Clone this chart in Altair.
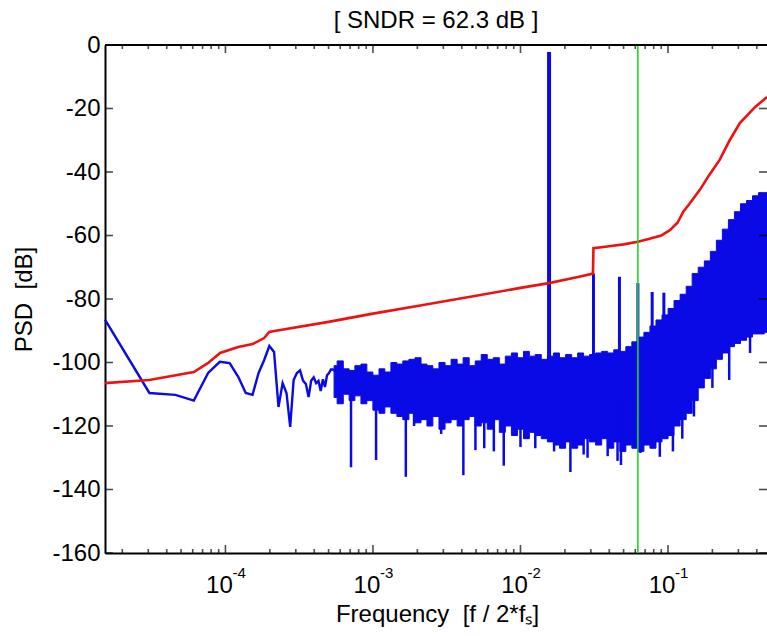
import altair as alt
import pandas as pd

FONT = "Liberation Sans"
BLUE = "#0a0ae6"
RED = "#ee1111"
GREEN = "#1ed81e"

X_MIN, X_MAX = 1.526e-5, 0.469
Y_MIN, Y_MAX = -160, 0

# ---- low-frequency PSD bins (blue line) ----
low_f = [1.526e-5, 3.052e-5, 4.578e-5, 6.104e-5, 7.630e-5, 9.155e-5, 1.068e-4, 1.221e-4,
         1.373e-4, 1.526e-4, 1.678e-4, 1.831e-4, 1.984e-4, 2.136e-4, 2.289e-4, 2.441e-4,
         2.594e-4, 2.747e-4, 2.899e-4, 3.052e-4, 3.204e-4, 3.357e-4, 3.510e-4, 3.662e-4,
         3.815e-4, 3.967e-4, 4.120e-4, 4.272e-4, 4.425e-4, 4.578e-4, 4.730e-4, 4.883e-4,
         5.035e-4, 5.188e-4, 5.341e-4, 5.493e-4, 5.646e-4]
low_db = [-86.5, -109.6, -110.2, -112.0, -103.3, -99.8, -100.2, -104.5,
          -109.6, -110.2, -103.3, -99.2, -94.8, -96.7, -114.0, -106.5,
          -109.6, -120.3, -105.5, -103.3, -102.5, -105.7, -106.8, -110.9,
          -105.7, -104.7, -106.5, -105.8, -109.0, -105.3, -107.7, -104.0,
          -103.3, -102.2, -102.2, -102.6, -102.2]

# ---- dense noise floor: upper / lower envelope ----
band_f = [5.45e-4, 6.0e-4, 6.6e-4, 7.2e-4, 7.9e-4, 8.7e-4, 9.5e-4, 1.05e-3, 1.15e-3, 1.26e-3,
          1.39e-3, 1.52e-3, 1.67e-3, 1.84e-3, 2.02e-3, 2.22e-3, 2.43e-3, 2.67e-3, 2.94e-3, 3.23e-3,
          3.55e-3, 3.9e-3, 4.28e-3, 4.71e-3, 5.17e-3, 5.68e-3, 6.24e-3, 6.86e-3, 7.53e-3, 8.28e-3,
          9.1e-3, 1.0e-2, 1.1e-2, 1.2e-2, 1.32e-2, 1.45e-2, 1.6e-2, 1.75e-2, 1.93e-2, 2.12e-2,
          2.33e-2, 2.56e-2, 2.8e-2, 3.08e-2, 3.39e-2, 3.72e-2, 4.09e-2, 4.5e-2, 4.94e-2, 5.43e-2,
          5.96e-2, 6.55e-2, 7.2e-2, 7.91e-2, 8.69e-2, 9.55e-2, 0.105, 0.115, 0.127, 0.139,
          0.153, 0.168, 0.185, 0.203, 0.223, 0.245, 0.269, 0.296, 0.325, 0.357,
          0.392, 0.431, 0.469]
band_hi = [-101.0, -99.5, -102.0, -102.5, -101.0, -100.5, -103.0, -104.0, -102.0, -103.0,
           -100.0, -100.5, -99.5, -99.0, -98.5, -100.5, -101.0, -102.0, -100.0, -101.0,
           -99.0, -100.5, -98.5, -101.0, -99.5, -97.5, -99.0, -98.5, -100.5, -98.0,
           -97.0, -98.5, -96.5, -98.0, -97.5, -99.0, -98.0, -97.0, -98.5, -97.5,
           -98.5, -97.0, -98.0, -97.5, -97.0, -96.5, -97.0, -96.0, -96.5, -95.0,
           -93.5, -92.0, -90.5, -88.5, -86.6, -85.0, -83.0, -80.5, -78.5, -76.0,
           -72.0, -70.0, -68.0, -65.0, -61.5, -58.0, -55.0, -52.5, -50.0, -49.0,
           -47.5, -46.5, -46.5]
band_lo = [-111.0, -113.0, -110.0, -112.0, -110.5, -113.0, -112.0, -115.0, -116.0, -114.0,
           -116.0, -117.0, -118.0, -116.0, -119.0, -118.0, -120.0, -117.0, -121.0, -119.0,
           -118.0, -120.0, -118.0, -117.0, -120.0, -119.0, -121.0, -118.0, -122.0, -120.0,
           -123.0, -121.0, -124.0, -122.0, -123.0, -124.0, -125.0, -126.0, -127.0, -125.0,
           -127.0, -126.0, -124.0, -125.0, -126.0, -124.0, -127.0, -125.0, -128.0, -126.0,
           -127.0, -128.0, -126.0, -127.0, -125.0, -124.0, -123.0, -120.0, -118.0, -116.0,
           -112.0, -108.0, -105.0, -102.0, -99.0, -97.0, -95.0, -94.0, -93.0, -92.0,
           -91.0, -91.0, -90.5]

# ---- deep notches below the noise floor ----
dip_f = [7.1e-4, 1.05e-3, 1.67e-3, 1.9e-3, 2.9e-3, 4.1e-3, 4.95e-3, 5.68e-3, 6.6e-3, 7.7e-3,
         1.0e-2, 1.26e-2, 1.69e-2, 2.18e-2, 2.68e-2, 2.85e-2, 3.9e-2, 4.55e-2, 4.8e-2, 6.5e-2,
         8.8e-2, 0.108, 0.125, 0.15, 0.2, 0.26, 0.36]
dip_db = [-133.0, -130.7, -136.0, -120.0, -122.5, -135.5, -127.6, -127.0, -128.0, -132.5,
          -126.6, -127.0, -128.0, -134.5, -129.0, -130.0, -129.5, -131.0, -132.3, -128.5,
          -129.7, -128.0, -124.0, -117.0, -108.0, -105.5, -97.0]
dip_top = [-108.0, -110.0, -110.0, -110.0, -110.0, -110.0, -110.0, -110.0, -110.0, -110.0,
           -110.0, -110.0, -110.0, -110.0, -110.0, -110.0, -110.0, -110.0, -110.0, -110.0,
           -110.0, -110.0, -105.0, -100.0, -90.0, -85.0, -80.0]

# ---- signal tone and harmonics ----
main_f = [0.015625]
main_db = [-2.2]
main_base = [-100.0]
tone_f = [0.03125, 0.046875, 0.0625, 0.078125, 0.09375]
tone_db = [-72.0, -73.0, -75.0, -77.8, -78.0]
tone_base = [-100.0, -100.0, -100.0, -100.0, -100.0]

# ---- red curve ----
red_f = [1.526e-5, 3.05e-5, 6.1e-5, 7.6e-5, 9.2e-5, 1.22e-4, 1.53e-4, 1.83e-4, 1.98e-4, 2.2e-4,
         5.0e-4, 1.0e-3, 2.0e-3, 5.0e-3, 1.0e-2, 1.56e-2, 2.5e-2, 3.1e-2, 3.125e-2, 4.0e-2,
         5.0e-2, 6.25e-2, 7.5e-2, 9.0e-2, 0.103, 0.116, 0.127, 0.140, 0.164, 0.190,
         0.224, 0.262, 0.307, 0.390, 0.469]
red_db = [-106.5, -105.5, -103.0, -100.2, -97.0, -95.1, -94.2, -92.3, -90.4, -90.0,
          -87.2, -84.6, -82.2, -79.0, -76.5, -75.0, -73.0, -72.0, -64.0, -63.4,
          -62.8, -62.0, -61.0, -60.0, -58.3, -56.0, -52.5, -50.0, -45.7, -41.0,
          -36.2, -30.0, -24.6, -19.5, -16.4]

# ---- green marker ----
green_f = [0.0625]

# ---- axis ticks / labels ----
x_major = [1e-4, 1e-3, 1e-2, 1e-1]
x_exp = ["-4", "-3", "-2", "-1"]
x_base = ["10", "10", "10", "10"]
x_minor = [2e-5, 3e-5, 4e-5, 5e-5, 6e-5, 7e-5, 8e-5, 9e-5,
           2e-4, 3e-4, 4e-4, 5e-4, 6e-4, 7e-4, 8e-4, 9e-4,
           2e-3, 3e-3, 4e-3, 5e-3, 6e-3, 7e-3, 8e-3, 9e-3,
           2e-2, 3e-2, 4e-2, 5e-2, 6e-2, 7e-2, 8e-2, 9e-2,
           2e-1, 3e-1, 4e-1]
y_ticks = [0, -20, -40, -60, -80, -100, -120, -140, -160]

xscale = alt.Scale(type="log", domain=[X_MIN, X_MAX], nice=False)
yscale = alt.Scale(domain=[Y_MIN, Y_MAX], nice=False, zero=False)

xaxis = alt.Axis(labels=False, ticks=False, tickSize=0, grid=False,
                 domainColor="black", domainWidth=2,
                 title="Frequency\u00a0 [f / 2*f\u209b]", titleFont=FONT, titleFontSize=24,
                 titleFontWeight="normal", titleColor="black", titleX=332, titleY=68,
                 titleBaseline="alphabetic", titleAlign="center")
yaxis = alt.Axis(values=y_ticks, labelExpr="'' + datum.value", labelFont=FONT,
                 labelFontSize=24, labelColor="black", labelPadding=5,
                 ticks=False, tickSize=0, grid=False, domainColor="black", domainWidth=2,
                 title="PSD\u00a0 [dB]", titleFont=FONT, titleFontSize=24,
                 titleFontWeight="normal", titleColor="black", titleX=-81, titleY=254,
                 titleAngle=270, titleAlign="center", titleBaseline="middle")


def X(field="f"):
    return alt.X(f"{field}:Q", scale=xscale, axis=xaxis)


def Y(field="v"):
    return alt.Y(f"{field}:Q", scale=yscale, axis=yaxis)


low_df = pd.DataFrame({"f": low_f, "v": low_db, "i": list(range(len(low_f)))})
band_df = pd.DataFrame({"f": band_f, "v": band_hi, "lo": band_lo})
dip_df = pd.DataFrame({"f": dip_f, "v": dip_db, "top": dip_top})
main_df = pd.DataFrame({"f": main_f, "v": main_db, "top": main_base})
tone_df = pd.DataFrame({"f": tone_f, "v": tone_db, "top": tone_base})
red_df = pd.DataFrame({"f": red_f, "v": red_db, "i": list(range(len(red_f)))})
green_df = pd.DataFrame({"f": green_f})

band = alt.Chart(band_df).mark_area(interpolate="step", color=BLUE, opacity=1,
                                    stroke=BLUE, strokeWidth=1).encode(
    x=X(), y=Y("v"), y2=alt.Y2("lo:Q"))
low_line = alt.Chart(low_df).mark_line(color=BLUE, strokeWidth=2.4).encode(
    x=X(), y=Y("v"), order="i:Q")
dips = alt.Chart(dip_df).mark_rule(color=BLUE, strokeWidth=2.5).encode(
    x=X(), y=Y("v"), y2=alt.Y2("top:Q"))
tones = alt.Chart(tone_df).mark_rule(color=BLUE, strokeWidth=3).encode(
    x=X(), y=Y("v"), y2=alt.Y2("top:Q"))
main_tone = alt.Chart(main_df).mark_rule(color=BLUE, strokeWidth=4).encode(
    x=X(), y=Y("v"), y2=alt.Y2("top:Q"))
red = alt.Chart(red_df).mark_line(color=RED, strokeWidth=2.6).encode(
    x=X(), y=Y("v"), order="i:Q")
green = alt.Chart(green_df).mark_rule(color=GREEN, strokeWidth=1.6).encode(x=X())

# frame: top border line
top_df = pd.DataFrame({"v": [Y_MAX]})
top_line = alt.Chart(top_df).mark_rule(color="black", strokeWidth=2).encode(y=Y("v"))

# inward ticks
bmaj = pd.DataFrame({"f": x_major, "v": [Y_MIN] * len(x_major)})
bmin = pd.DataFrame({"f": x_minor, "v": [Y_MIN] * len(x_minor)})
tmaj = pd.DataFrame({"f": x_major, "v": [Y_MAX] * len(x_major)})
tmin = pd.DataFrame({"f": x_minor, "v": [Y_MAX] * len(x_minor)})
lt = pd.DataFrame({"f": [X_MIN] * len(y_ticks), "v": y_ticks})
rt = pd.DataFrame({"f": [X_MAX] * len(y_ticks), "v": y_ticks})


def vt(df, size, off):
    return alt.Chart(df).mark_tick(orient="vertical", size=size, thickness=1.6,
                                   yOffset=off, color="black").encode(x=X(), y=Y("v"))


def ht(df, size, off):
    return alt.Chart(df).mark_tick(orient="horizontal", size=size, thickness=1.6,
                                   xOffset=off, color="black").encode(x=X(), y=Y("v"))


ticks = [vt(bmaj, 8, -4), vt(bmin, 4, -2), vt(tmaj, 8, 4), vt(tmin, 4, 2),
         ht(lt, 8, 4), ht(rt, 8, -4)]

# x tick labels 10^k
lab_df = pd.DataFrame({"f": x_major, "v": [Y_MIN] * len(x_major), "base": x_base, "exp": x_exp})
lab_base = alt.Chart(lab_df).mark_text(font=FONT, fontSize=24, align="center",
                                        baseline="alphabetic", dx=-6, dy=40,
                                        color="black").encode(x=X(), y=Y("v"), text="base:N")
lab_exp = alt.Chart(lab_df).mark_text(font=FONT, fontSize=15, align="left",
                                       baseline="alphabetic", dx=7, dy=25,
                                       color="black").encode(x=X(), y=Y("v"), text="exp:N")

chart = alt.layer(
    band, low_line, dips, tones, main_tone, red, green, top_line, *ticks, lab_base, lab_exp
).properties(
    width=662, height=508,
    autosize=alt.AutoSizeParams(type="none"),
    padding={"left": 105, "top": 45, "right": 0, "bottom": 83},
    title=alt.TitleParams(text="[ SNDR = 62.3 dB ]", font=FONT, fontSize=24,
                          fontWeight="normal", color="black", anchor="middle",
                          baseline="alphabetic", offset=-19),
).configure_view(stroke=None).configure(background="white")

chart.save("out.html", embed_options={"renderer": "svg", "actions": False})
